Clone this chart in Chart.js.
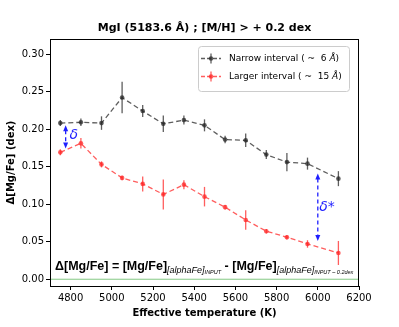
<!DOCTYPE html>
<html lang="en">
<head>
  <meta charset="UTF-8" />
  <title>MgI (5183.6 Å) ; [M/H] > + 0.2 dex</title>
  <script src="https://cdn.jsdelivr.net/npm/chart.js"></script>
  <style>
    body { margin: 0; padding: 0; background: #fff; }
    #wrap { width: 399px; height: 327px; position: relative; }
  </style>
</head>
<body>
  <div id="wrap"><canvas id="chart" width="399" height="327"></canvas></div>

  <script>
    // effective temperatures (K)
    const temps = [4750, 4850, 4950, 5050, 5150, 5250, 5350, 5450, 5550, 5650, 5750, 5850, 5950, 6100];
    // narrow interval (~6 Å)
    const narrow    = [0.208, 0.209, 0.208, 0.242, 0.224, 0.207, 0.212, 0.205, 0.186, 0.185, 0.166, 0.156, 0.154, 0.134];
    const narrowErr = [0.004, 0.005, 0.009, 0.021, 0.008, 0.011, 0.006, 0.008, 0.005, 0.009, 0.006, 0.012, 0.008, 0.010];
    // larger interval (~15 Å)
    const larger    = [0.169, 0.181, 0.153, 0.135, 0.127, 0.113, 0.126, 0.110, 0.096, 0.079, 0.064, 0.056, 0.047, 0.035];
    const largerErr = [0.004, 0.007, 0.004, 0.003, 0.010, 0.020, 0.006, 0.013, 0.003, 0.013, 0.003, 0.003, 0.005, 0.016];
    const xTicks = [4800, 5000, 5200, 5400, 5600, 5800, 6000, 6200];
    const yTicks = [0.00, 0.05, 0.10, 0.15, 0.20, 0.25, 0.30];
    const xLimits = [4700, 6200];

    const BLACK = 'rgba(40,40,40,0.75)';
    const RED = 'rgba(255,40,40,0.75)';
    const BLUE = '#1f1fff';

    const errPlugin = {
      id: 'errbars',
      afterDatasetsDraw(chart) {
        const ctx = chart.ctx;
        const x = chart.scales.x, y = chart.scales.y;
        [[narrow, narrowErr, BLACK], [larger, largerErr, RED]].forEach(([vals, errs, col]) => {
          ctx.save();
          ctx.strokeStyle = col;
          ctx.lineWidth = 1.3;
          vals.forEach((v, i) => {
            const px = x.getPixelForValue(temps[i]);
            ctx.beginPath();
            ctx.moveTo(px, y.getPixelForValue(v - errs[i]));
            ctx.lineTo(px, y.getPixelForValue(v + errs[i]));
            ctx.stroke();
          });
          ctx.restore();
        });
      }
    };

    function arrow(ctx, px, y1, y2) {
      ctx.save();
      ctx.strokeStyle = BLUE;
      ctx.fillStyle = BLUE;
      ctx.lineWidth = 1.3;
      ctx.setLineDash([4, 3]);
      ctx.beginPath();
      ctx.moveTo(px, y1 + 5);
      ctx.lineTo(px, y2 - 5);
      ctx.stroke();
      ctx.setLineDash([]);
      [[y1, 1], [y2, -1]].forEach(([yy, d]) => {
        ctx.beginPath();
        ctx.moveTo(px, yy);
        ctx.lineTo(px - 2.5, yy + d * 6);
        ctx.lineTo(px + 2.5, yy + d * 6);
        ctx.closePath();
        ctx.fill();
      });
      ctx.restore();
    }

    function runs(ctx, x, base, parts) {
      parts.forEach(p => {
        ctx.font = p.font;
        ctx.fillText(p.t, x, base + (p.dy || 0));
        x += ctx.measureText(p.t).width;
      });
    }

    const decor = {
      id: 'decor',
      afterDraw(chart) {
        const ctx = chart.ctx;
        const a = chart.chartArea;
        const x = chart.scales.x, y = chart.scales.y;
        ctx.save();
        // frame
        ctx.strokeStyle = '#000';
        ctx.lineWidth = 1;
        ctx.strokeRect(a.left + 0.5, a.top + 0.5, a.right - a.left - 1, a.bottom - a.top);

        // title
        ctx.fillStyle = '#000';
        ctx.textAlign = 'center';
        ctx.textBaseline = 'middle';
        ctx.font = 'bold 11px "DejaVu Sans"';
        ctx.fillText('MgI (5183.6 Å) ; [M/H] > + 0.2 dex', (a.left + a.right) / 2, 28);

        // axis titles
        ctx.font = 'bold 10px "DejaVu Sans"';
        ctx.fillText('Effective temperature (K)', (a.left + a.right) / 2, 313);
        ctx.save();
        ctx.translate(11, (a.top + a.bottom) / 2);
        ctx.rotate(-Math.PI / 2);
        ctx.fillText('Δ[Mg/Fe] (dex)', 0, 0);
        ctx.restore();

        // arrows + labels
        arrow(ctx, x.getPixelForValue(4776), y.getPixelForValue(0.205), y.getPixelForValue(0.174));
        arrow(ctx, x.getPixelForValue(6000), y.getPixelForValue(0.141), y.getPixelForValue(0.051));
        ctx.fillStyle = BLUE;
        ctx.font = 'italic 14px "DejaVu Sans"';
        ctx.fillText('δ', x.getPixelForValue(4815), y.getPixelForValue(0.192));
        ctx.fillText('δ*', x.getPixelForValue(6045), y.getPixelForValue(0.096));

        // legend
        const lx = 198, ly = 46, lw = 151, lh = 45;
        ctx.fillStyle = 'rgba(255,255,255,0.85)';
        ctx.strokeStyle = '#cccccc';
        ctx.beginPath();
        ctx.roundRect(lx + 0.5, ly + 0.5, lw, lh, 3);
        ctx.fill();
        ctx.stroke();
        [[58.5, BLACK, 'Narrow interval ( ~  6 ', 'Å', ')'], [76.5, RED, 'Larger interval ( ~  15 ', 'Å', ')']].forEach(([yy, col, t1, t2, t3]) => {
          ctx.strokeStyle = col;
          ctx.fillStyle = col;
          ctx.lineWidth = 1.3;
          ctx.setLineDash([4, 2]);
          ctx.beginPath();
          ctx.moveTo(201, yy);
          ctx.lineTo(221, yy);
          ctx.stroke();
          ctx.setLineDash([]);
          ctx.beginPath();
          ctx.moveTo(211, yy - 5);
          ctx.lineTo(211, yy + 5);
          ctx.stroke();
          ctx.beginPath();
          ctx.arc(211, yy, 2.3, 0, Math.PI * 2);
          ctx.fill();
          ctx.fillStyle = '#000';
          ctx.textAlign = 'left';
          runs(ctx, 229, yy, [
            { t: t1, font: '9px "DejaVu Sans"' },
            { t: t2, font: 'italic 9px "DejaVu Sans"' },
            { t: t3, font: '9px "DejaVu Sans"' }
          ]);
        });

        // formula
        ctx.fillStyle = '#000';
        ctx.textAlign = 'left';
        ctx.textBaseline = 'alphabetic';
        const B = 'bold 12.5px "Liberation Sans"';
        const S = 'italic 9px "Liberation Sans"';
        const T = 'italic 5.5px "Liberation Sans"';
        runs(ctx, 55, 270, [
          { t: 'Δ[Mg/Fe] = [Mg/Fe]', font: B },
          { t: '[alphaFe]', font: S, dy: 2.5 },
          { t: 'INPUT', font: T, dy: 3.5 },
          { t: ' - [Mg/Fe]', font: B },
          { t: '[alphaFe]', font: S, dy: 2.5 },
          { t: 'INPUT – 0.2dex', font: T, dy: 3.5 }
        ]);
        ctx.restore();
      }
    };

    new Chart(document.getElementById('chart'), {
      type: 'line',
      data: {
        datasets: [
          {
            label: 'zero',
            data: xLimits.map(t => ({ x: t, y: 0 })),
            borderColor: 'rgba(60,170,60,0.8)',
            borderWidth: 0.8,
            pointRadius: 0
          },
          {
            label: 'Narrow interval ( ~ 6 Å)',
            data: temps.map((t, i) => ({ x: t, y: narrow[i] })),
            borderColor: BLACK,
            backgroundColor: BLACK,
            borderWidth: 1.3,
            borderDash: [5, 3],
            pointRadius: 2.3,
            pointBorderWidth: 0
          },
          {
            label: 'Larger interval ( ~ 15 Å)',
            data: temps.map((t, i) => ({ x: t, y: larger[i] })),
            borderColor: RED,
            backgroundColor: RED,
            borderWidth: 1.3,
            borderDash: [5, 3],
            pointRadius: 2.3,
            pointBorderWidth: 0
          }
        ]
      },
      options: {
        responsive: false,
        animation: false,
        layout: { padding: { left: 0, right: 40, top: 39, bottom: 0 } },
        plugins: { legend: { display: false }, tooltip: { enabled: false }, title: { display: false } },
        scales: {
          x: {
            type: 'linear',
            min: xLimits[0],
            max: xLimits[1],
            afterBuildTicks: s => { s.ticks = xTicks.map(v => ({ value: v })); },
            afterFit: s => { s.height = 41; },
            grid: { drawOnChartArea: false, tickLength: 4, color: '#000' },
            border: { color: '#000' },
            ticks: { color: '#000', padding: 2, maxRotation: 0, font: { family: 'DejaVu Sans', size: 10 }, callback: v => String(v) }
          },
          y: {
            min: -0.009,
            max: 0.32,
            afterBuildTicks: s => { s.ticks = yTicks.map(v => ({ value: v })); },
            afterFit: s => { s.width = 50; },
            grid: { drawOnChartArea: false, tickLength: 4, color: '#000' },
            border: { color: '#000' },
            ticks: { color: '#000', padding: 2, font: { family: 'DejaVu Sans', size: 10 }, callback: v => v.toFixed(2) }
          }
        }
      },
      plugins: [errPlugin, decor]
    });
  </script>
</body>
</html>
